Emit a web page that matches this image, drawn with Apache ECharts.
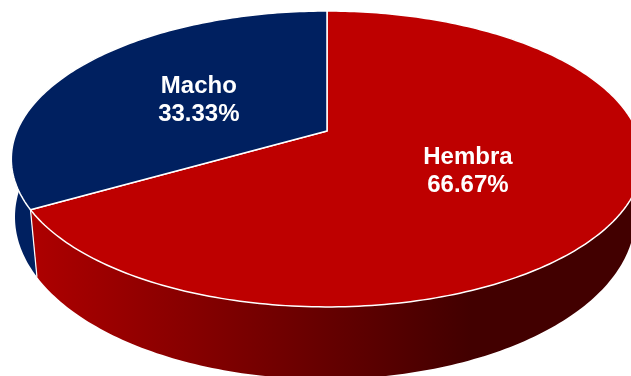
<!DOCTYPE html>
<html>
<head>
<meta charset="utf-8">
<style>
  html, body { margin: 0; padding: 0; background: #fff; }
  #chart { width: 631px; height: 376px; }
</style>
<script src="https://cdn.jsdelivr.net/npm/echarts@6/dist/echarts.min.js"></script>
</head>
<body>
<div id="chart"></div>
<script>
// Sex ratio shares, drawn as a tilted pie with a solid rim
const categories = ['Hembra', 'Macho'];
const shares = [66.67, 33.33];
const topColors = ['#BE0000', '#002060'];

const total = shares.reduce((a, b) => a + b, 0);

// Perspective projection of the unit disc onto the screen: upper face and lower face
const TOP = { cx: 327, a: 310, b: -117.9, c: 131, k: 0.189 };
const BASE = { cx: 325, a: 306, b: -127.3, c: 191.1, k: 0.16 };

function project(p, u, v) {
  const d = 1 + p.k * v;
  return [p.cx + p.a * u / d, (p.b * v + p.c) / d];
}
function onRim(p, turn, r) {
  const t = turn * 2 * Math.PI;
  return project(p, r * Math.sin(t), r * Math.cos(t));
}
function sliceRange(index) {
  let start = 0;
  for (let i = 0; i < index; i++) start += shares[i] / total;
  return [start, start + shares[index] / total];
}
function arc(p, from, to) {
  const pts = [];
  const steps = Math.ceil(Math.abs(to - from) * 360);
  for (let i = 0; i <= steps; i++) pts.push(onRim(p, from + (to - from) * i / steps, 1));
  return pts;
}

// Side wall of a slice; the back of it ends up hidden under the upper face
function renderWall(params, api) {
  const i = api.value(0);
  const [s, e] = sliceRange(i);
  const from = Math.max(s, 0.1);
  const to = Math.min(e, 0.9);
  const upper = arc(TOP, from, to);
  const lower = arc(BASE, from, to).reverse();
  const fill = i === 0 ? {
    type: 'linear', global: true, x: 37, y: 0, x2: 631, y2: 0,
    colorStops: [
      { offset: 0, color: '#AC0000' },
      { offset: 0.73, color: '#420000' },
      { offset: 1, color: '#420000' }
    ]
  } : '#002060';
  const children = [{
    type: 'polygon',
    shape: { points: upper.concat(lower) },
    style: { fill: fill }
  }];
  if (i === 0) {
    // White seam where this slice's wall ends against the next one
    const a = onRim(TOP, e, 1);
    const b = onRim(BASE, e, 1);
    children.push({
      type: 'line',
      z2: 5,
      shape: { x1: a[0], y1: a[1], x2: b[0], y2: b[1] },
      style: { stroke: '#fff', lineWidth: 1.2 }
    });
  }
  return { type: 'group', children: children };
}

function renderTop(params, api) {
  const i = api.value(0);
  const [s, e] = sliceRange(i);
  const pts = [project(TOP, 0, 0)].concat(arc(TOP, s, e));
  const at = onRim(TOP, (s + e) / 2, 0.5);
  return {
    type: 'group',
    children: [
      {
        type: 'polygon',
        shape: { points: pts },
        style: { fill: topColors[i], stroke: '#fff', lineWidth: 1.5, lineJoin: 'round' }
      },
      {
        type: 'text',
        z2: 10,
        style: {
          x: at[0], y: at[1] + 3,
          text: categories[i] + '\n' + shares[i].toFixed(2) + '%',
          fill: '#fff',
          font: 'bold 24px "Liberation Sans", Arial, sans-serif',
          lineHeight: 28,
          align: 'center',
          verticalAlign: 'middle'
        }
      }
    ]
  };
}

const rows = shares.map((v, i) => [i, v]);
const chart = echarts.init(document.getElementById('chart'), null, { renderer: 'canvas' });
chart.setOption({
  animation: false,
  backgroundColor: '#fff',
  series: [
    { type: 'custom', coordinateSystem: 'none', data: rows, renderItem: renderWall, z: 1, silent: true },
    { type: 'custom', coordinateSystem: 'none', data: rows, renderItem: renderTop, z: 2, silent: true }
  ]
});
</script>
</body>
</html>
